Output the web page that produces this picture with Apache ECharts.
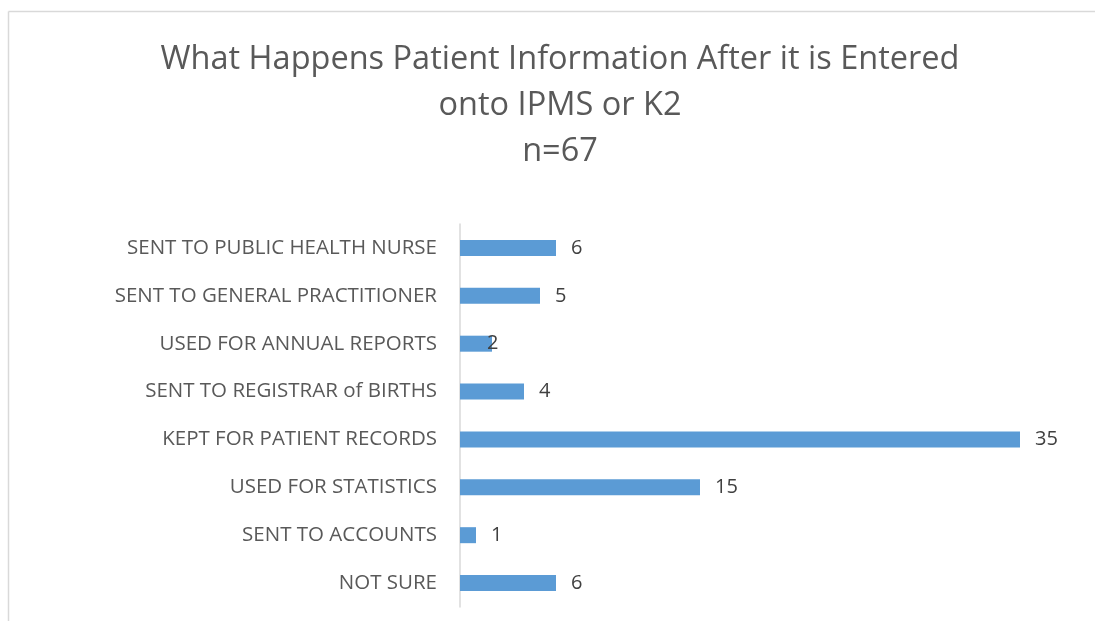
<!DOCTYPE html>
<html><head><meta charset="utf-8">
<script src="https://cdn.jsdelivr.net/npm/echarts@6/dist/echarts.min.js"></script>
<style>html,body{margin:0;padding:0;background:#fff}#c{width:1095px;height:621px}</style>
</head><body><div id="c"></div>
<script>
var categories = ["NOT SURE","SENT TO ACCOUNTS","USED FOR STATISTICS","KEPT FOR PATIENT RECORDS","SENT TO REGISTRAR of BIRTHS","USED FOR ANNUAL REPORTS","SENT TO GENERAL PRACTITIONER","SENT TO PUBLIC HEALTH NURSE"];
var values = [6,1,15,35,4,2,5,6];
var titleText = "What Happens Patient Information After it is Entered\nonto IPMS or K2\nn=67";

var chart = echarts.init(document.getElementById('c'));
var font = '"Open Sans", sans-serif';
chart.setOption({
  animation:false,
  title:{text:titleText,left:555,top:32,textAlign:'center',
    textStyle:{fontFamily:font,fontSize:32.5,fontWeight:'normal',color:'#595959',lineHeight:46}},
  graphic:[
    {type:'line',shape:{x1:8.5,y1:11.5,x2:1095,y2:11.5},style:{stroke:'#d9d9d9',lineWidth:1.5},silent:true},
    {type:'line',shape:{x1:8.5,y1:11.5,x2:8.5,y2:621},style:{stroke:'#d9d9d9',lineWidth:1.5},silent:true}
  ],
  grid:{left:460,right:75,top:224,bottom:14,containLabel:false},
  xAxis:{type:'value',min:0,max:35,show:false},
  yAxis:{type:'category',data:categories,
    axisLine:{show:true,lineStyle:{color:'#d9d9d9',width:1.5}},
    axisTick:{show:false},
    axisLabel:{fontFamily:font,fontSize:20.5,color:'#595959',margin:23}},
  series:[{type:'bar',barWidth:16,
    data:values.map(function(v,i){
      var d={value:v};
      if(categories[i]==="USED FOR ANNUAL REPORTS"){d.label={offset:[-20,0]};}
      return d;}),
    itemStyle:{color:'#5b9bd5'},
    label:{show:true,position:'right',distance:15,fontFamily:font,fontSize:20,color:'#404040'}}]
});
</script></body></html>
